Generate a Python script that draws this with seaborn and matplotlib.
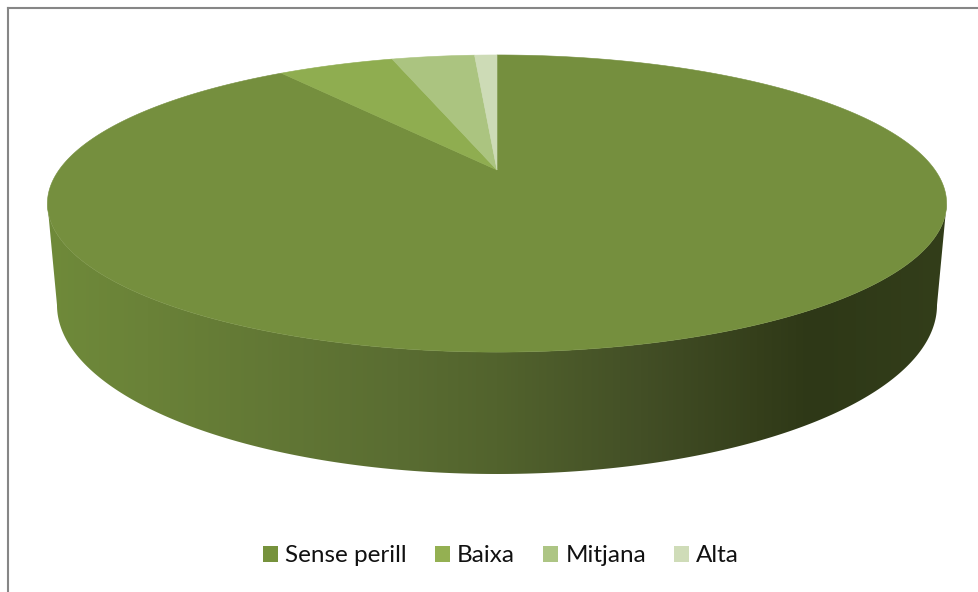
import numpy as np
import seaborn as sns
import matplotlib
matplotlib.use("Agg")
import matplotlib.pyplot as plt
from matplotlib.colors import LinearSegmentedColormap
from matplotlib.patches import Patch, Polygon

# values (percent)
categories = ["Sense perill", "Baixa", "Mitjana", "Alta"]
values = [90.1, 5.2, 3.7, 1.0]
colors = ["#758f3e", "#8fad50", "#abc480", "#cddbb6"]
legend_colors = ["#76923c", "#94b052", "#adc584", "#cfdcb8"]
side_colors = ["#6f8a3a", "#6a8238", "#5a6d32", "#52632d", "#434f26", "#353f1b", "#2e3817", "#333e1a"]
side_stops = [0.0, 0.11, 0.39, 0.50, 0.66, 0.79, 0.85, 1.0]

# pie geometry in pixels
cx, cy = 497, 170
rx, ry = 438, 141
persp = 0.2257
bottom_rx, bottom_ry, bottom_cy = 440, 169, 305


def project(theta):
    u, v = np.sin(theta), np.cos(theta)
    w = 1 + persp * v
    return cx + rx * u / w, cy - ry * v / w


sns.set_theme(style="white")
plt.rcParams["font.family"] = ["Lato", "DejaVu Sans"]

fig = plt.figure(figsize=(9.79, 5.92), dpi=100)
ax = fig.add_axes([8.5 / 979, 0, 970.5 / 979, 584.5 / 592])
ax.set_xlim(8.5, 979)
ax.set_ylim(592, 7.5)
ax.set_xticks([])
ax.set_yticks([])

# chart frame only shows on the left and top
sns.despine(ax=ax, left=False, top=False, right=True, bottom=True)
for s in ["left", "top"]:
    ax.spines[s].set_visible(True)
    ax.spines[s].set_color("#868686")
    ax.spines[s].set_linewidth(1.5)

# side of the disc, horizontal gradient clipped to the front rim
circle = np.linspace(0, 2 * np.pi, 721)
tx, ty = project(circle)
front = np.arange(np.argmax(tx), np.argmin(tx) + 1)
rim = np.linspace(1.5 * np.pi, 0.5 * np.pi, 361)
bx = cx + bottom_rx * np.sin(rim)
by = bottom_cy - bottom_ry * np.cos(rim)
side_xy = np.column_stack([np.r_[tx[front], bx], np.r_[ty[front], by]])
side = Polygon(side_xy, closed=True, transform=ax.transData, fc="none", ec="none")
ax.add_patch(side)
cmap = LinearSegmentedColormap.from_list("side", list(zip(side_stops, side_colors)))
img = ax.imshow(np.linspace(0, 1, 512)[None, :], cmap=cmap, aspect="auto",
                extent=(47, 947, 480, 170), zorder=2)
img.set_clip_path(side)
ax.set_xlim(8.5, 979)
ax.set_ylim(592, 7.5)

# top of the disc, clockwise from 12 o'clock
edges = np.r_[0, np.cumsum(values)] / np.sum(values) * 2 * np.pi
for start, end, color in zip(edges[:-1], edges[1:], colors):
    arc = np.linspace(start, end, max(int((end - start) * 120), 4))
    x, y = project(arc)
    ax.fill(np.r_[cx, x], np.r_[cy, y], color=color, lw=0.4, zorder=3)

handles = [Patch(fc=c, ec="none") for c in legend_colors]
ax.legend(handles, categories, ncol=4, loc="center", bbox_to_anchor=(501, 556),
          bbox_transform=ax.transData, frameon=False, fontsize=17.5,
          handlelength=0.62, handleheight=0.62, handletextpad=0.3, columnspacing=1.15,
          labelcolor="#111111")

fig.savefig("out.png", dpi=100, facecolor="white")
